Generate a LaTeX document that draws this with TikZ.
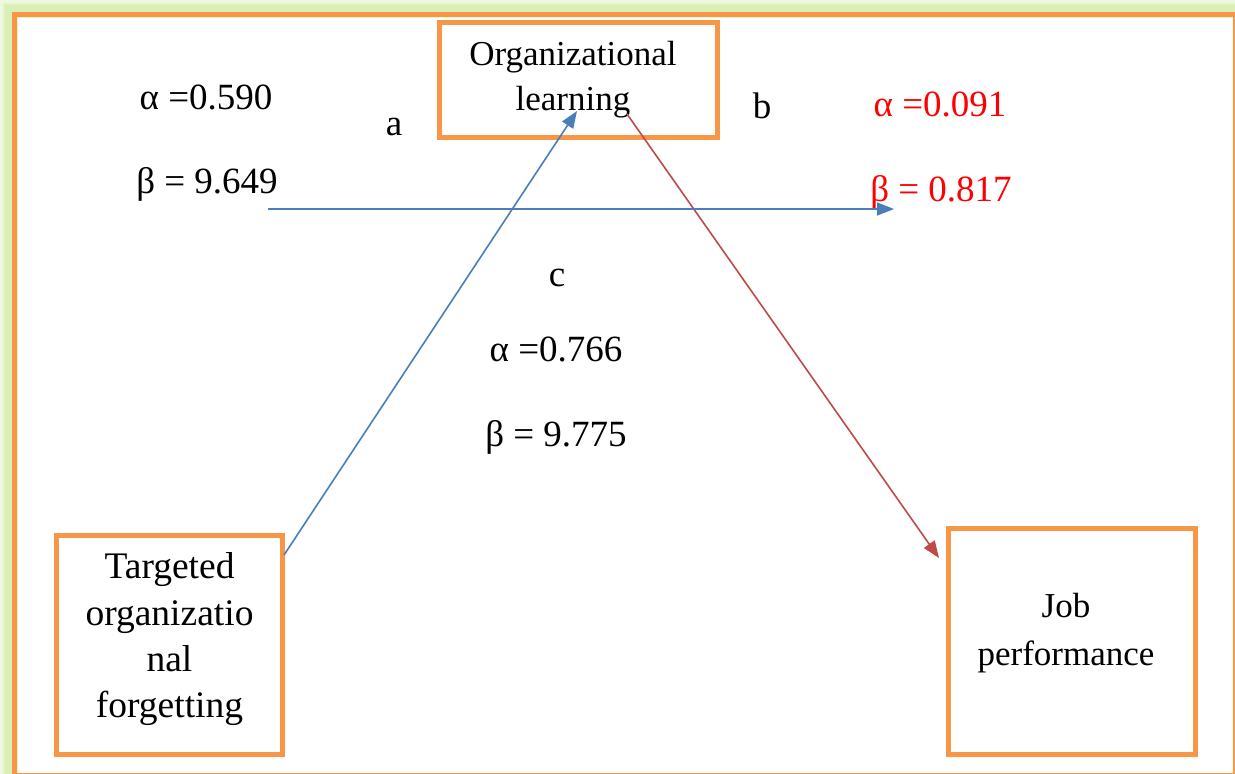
\documentclass[tikz,border=0pt]{standalone}
\usepackage{fontspec}
\setmainfont{Liberation Serif}
\usetikzlibrary{arrows.meta,calc}
\definecolor{frameorange}{HTML}{F79646}
\definecolor{arrowblue}{HTML}{4A7EBB}
\definecolor{arrowred}{HTML}{BE4B48}
\definecolor{glowgreen}{HTML}{D9EFB6}
\definecolor{labelred}{HTML}{FF0000}
\begin{document}
\begin{tikzpicture}[x=1pt,y=-1pt,
  font=\fontsize{35}{46}\selectfont,
  boxst/.style={draw=frameorange, line width=5pt, inner sep=0pt, outer sep=0pt, fill=white},
  txt/.style={anchor=base, inner sep=0pt, outer sep=0pt},
  bigtxt/.style={txt, font=\fontsize{37.5}{46}\selectfont},
  lbl/.style={txt, font=\fontsize{37}{46}\selectfont},
  redtxt/.style={lbl, text=labelred},
  bluearrow/.style={draw=arrowblue, line width=1.6pt, -{Triangle[length=17pt,width=13pt]}},
  redarrow/.style={draw=arrowred, line width=1.6pt, -{Triangle[length=17pt,width=13pt]}}]
\useasboundingbox (0,0) rectangle (1235,774);
% glow and outer frame
\fill[glowgreen] (0,0) rectangle (1235,774);
\draw[white!55!glowgreen, line width=3pt] (1.5,1.5) rectangle (1240,780);
\draw[white!25!glowgreen, line width=2pt] (4,4) rectangle (1240,780);
\fill[white] (14,14) rectangle (1240,780);
\draw[white!40!glowgreen, line width=1pt] (17.5,17.5) rectangle (1240,780);
\draw[frameorange, line width=5pt] (14,14) rectangle (1235,775);
% boxes
\node[boxst, minimum width=278pt, minimum height=115pt] (ol) at (578,79.5) {};
\node[boxst, minimum width=225.5pt, minimum height=219pt] (tof) at (169.25,645) {};
\node[boxst, minimum width=247.5pt, minimum height=226.5pt] (job) at (1071.75,641.25) {};
% box texts
\node[txt] (ol1) at (573,65) {Organizational};
\node[txt] (ol2) at (573,110) {learning};
\node[bigtxt] (tof1) at (169.5,578) {Targeted};
\node[bigtxt] (tof2) at (169.5,625) {organizatio};
\node[bigtxt] (tof3) at (169.5,671) {nal};
\node[bigtxt] (tof4) at (169.5,717) {forgetting};
\node[txt] (job1) at (1066,617) {Job};
\node[txt] (job2) at (1066,665) {performance};
% labels
\node[lbl] (la1) at (206,109) {α =0.590};
\node[lbl] (lb1) at (207,193) {β = 9.649};
\node[lbl] (la) at (394,135) {a};
\node[lbl] (lb) at (762,118) {b};
\node[redtxt] (la2) at (940,116) {α =0.091};
\node[redtxt] (lb2) at (941,201) {β = 0.817};
\node[lbl] (lc) at (557,286) {c};
\node[lbl] (la3) at (556,361) {α =0.766};
\node[lbl] (lb3) at (556,446) {β = 9.775};
% connector end points
\coordinate (aStart) at ($(tof.north east)+(2,19.5)$);
\coordinate (aEnd) at ($(ol.south)+(-1,-26)$);
\coordinate (bStart) at ($(ol.south)+(49,-23)$);
\coordinate (bEnd) at ($(job.north west)+(-9,30)$);
\coordinate (cStart) at (268,209);
\coordinate (cEnd) at (894,209);
% connectors
\draw[bluearrow] (aStart) -- (aEnd);
\draw[redarrow] (bStart) -- (bEnd);
\draw[bluearrow] (cStart) -- (cEnd);
\end{tikzpicture}
\end{document}
